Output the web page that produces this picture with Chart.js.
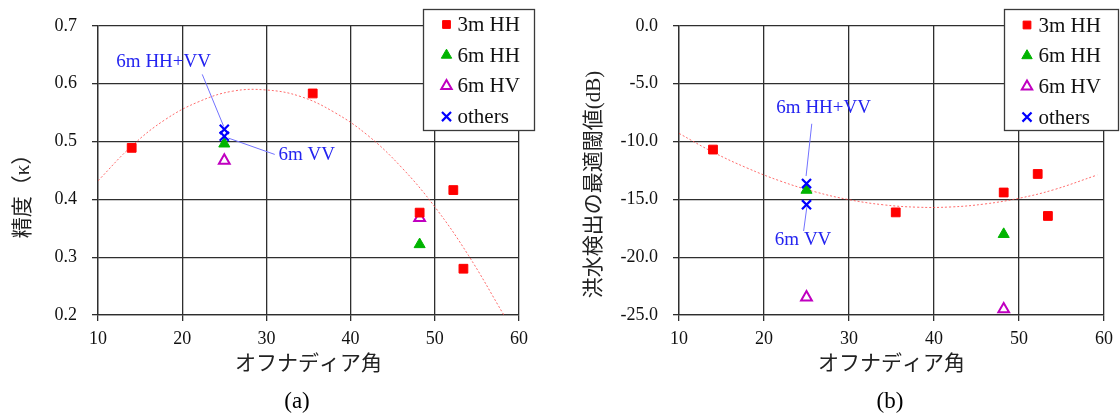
<!DOCTYPE html>
<html><head><meta charset="utf-8">
<script src="https://cdn.jsdelivr.net/npm/chart.js@4.4.1/dist/chart.umd.min.js"></script>
<style>
html,body{margin:0;padding:0;background:#fff;}
#wrap{position:relative;width:1120px;height:416px;overflow:hidden;}
canvas{position:absolute;top:0;}
#ca{left:0;} #cb{left:560px;}
</style></head><body>
<div id="wrap"><canvas id="ca" width="560" height="416"></canvas><canvas id="cb" width="560" height="416"></canvas></div>
<script>
// ---------- data ----------
const offNadirTicks = [10, 20, 30, 40, 50, 60];
const offNadirTickLabels = ['10', '20', '30', '40', '50', '60'];
const kappaTicks = [0.2, 0.3, 0.4, 0.5, 0.6, 0.7];
const kappaTickLabels = ['0.2', '0.3', '0.4', '0.5', '0.6', '0.7'];
const thrTicks = [-25, -20, -15, -10, -5, 0];
const thrTickLabels = ['-25.0', '-20.0', '-15.0', '-10.0', '-5.0', '0.0'];

const seriesNames = ['3m HH', '6m HH', '6m HV', 'others'];

const angle3mHH = [14.0, 35.5, 48.2, 52.2, 53.4];
const angle6mHH = [25.0, 48.2];
const angle6mHV = [25.0, 48.2];
const angleOthers = [25.0, 25.0];          // 6m HH+VV, 6m VV

const kappa3mHH = [0.489, 0.583, 0.377, 0.416, 0.280];
const kappa6mHH = [0.496, 0.322];
const kappa6mHV = [0.467, 0.368];
const kappaOthers = [0.521, 0.509];

const thr3mHH = [-10.7, -16.13, -14.41, -12.81, -16.44];
const thr6mHH = [-14.2, -18.02];
const thr6mHV = [-23.47, -24.49];
const thrOthers = [-13.64, -15.46];

// trend curves
const trendAX = [10, 14, 18, 22, 26, 30, 34, 38, 42, 46, 50, 54, 58.2];
const trendAY = [0.432, 0.492, 0.538, 0.569, 0.587, 0.589, 0.578, 0.551, 0.511, 0.456, 0.387, 0.303, 0.200];
const trendBX = [10, 14, 18, 22, 26, 30, 34, 38, 42, 46, 50, 54, 59.2];
const trendBY = [-9.3, -10.92, -12.29, -13.44, -14.35, -15.03, -15.47, -15.68, -15.66, -15.40, -14.91, -14.19, -12.90];

// ---------- helpers ----------
const SERIF = '"Liberation Serif", "Times New Roman", serif';
const MIXED = '"Liberation Serif", "Noto Sans CJK JP", serif';
const GRID = '#2e2e2e';
const pts = (xs, ys) => xs.map((x, i) => ({x: x, y: ys[i]}));

function drawMarker(ctx, style, x, y, r, fill, stroke, lw) {
  ctx.save();
  ctx.beginPath();
  if (style === 'rect') {
    const s = Math.SQRT1_2 * r;
    ctx.rect(x - s, y - s, 2 * s, 2 * s);
  } else if (style === 'triangle') {
    let a = 0;
    ctx.moveTo(x + Math.sin(a) * r, y - Math.cos(a) * r);
    a += 2 * Math.PI / 3;
    ctx.lineTo(x + Math.sin(a) * r, y - Math.cos(a) * r);
    a += 2 * Math.PI / 3;
    ctx.lineTo(x + Math.sin(a) * r, y - Math.cos(a) * r);
    ctx.closePath();
  } else if (style === 'crossRot') {
    const o = Math.SQRT1_2 * r;
    ctx.moveTo(x - o, y - o); ctx.lineTo(x + o, y + o);
    ctx.moveTo(x - o, y + o); ctx.lineTo(x + o, y - o);
  }
  if (fill && style !== 'crossRot') { ctx.fillStyle = fill; ctx.fill(); }
  if (lw > 0) { ctx.strokeStyle = stroke; ctx.lineWidth = lw; ctx.stroke(); }
  ctx.restore();
}

const decorPlugin = {
  id: 'decor',
  afterDraw(chart, args, o) {
    const ctx = chart.ctx;
    const xs = chart.scales.x, ys = chart.scales.y;
    // annotations
    ctx.save();
    o.notes.forEach(n => {
      ctx.beginPath();
      ctx.strokeStyle = '#7272ff';
      ctx.lineWidth = 1;
      ctx.moveTo(xs.getPixelForValue(n.line[0][0]), ys.getPixelForValue(n.line[0][1]));
      ctx.lineTo(xs.getPixelForValue(n.line[1][0]), ys.getPixelForValue(n.line[1][1]));
      ctx.stroke();
      ctx.font = '19px ' + SERIF;
      ctx.fillStyle = '#2424f0';
      ctx.textAlign = 'center';
      ctx.textBaseline = 'middle';
      ctx.fillText(n.text, xs.getPixelForValue(n.at[0]), ys.getPixelForValue(n.at[1]));
    });
    ctx.restore();
    // legend
    const L = o.legend;
    ctx.save();
    ctx.fillStyle = '#fff';
    ctx.fillRect(L.x, L.y, L.w, L.h);
    ctx.strokeStyle = '#3a3a3a';
    ctx.lineWidth = 1.3;
    ctx.strokeRect(L.x, L.y, L.w, L.h);
    let row = 0;
    chart.data.datasets.forEach(ds => {
      if (!ds.label) return;
      const cy = L.y + L.dy0 + row * L.gap;
      drawMarker(ctx, ds.pointStyle, L.x + L.mdx, cy, ds.legendRadius,
                 ds.backgroundColor, ds.borderColor, ds.borderWidth);
      ctx.font = '21px ' + SERIF;
      ctx.fillStyle = '#111';
      ctx.textAlign = 'left';
      ctx.textBaseline = 'middle';
      ctx.fillText(ds.label, L.x + L.tdx, cy + 1);
      row++;
    });
    ctx.restore();
    // y-axis title and caption
    ctx.save();
    ctx.fillStyle = '#222';
    ctx.textAlign = 'center';
    ctx.textBaseline = 'middle';
    ctx.font = '21px ' + MIXED;
    ctx.translate(o.yTitle.x, o.yTitle.y);
    ctx.rotate(-Math.PI / 2);
    ctx.fillText(o.yTitle.text, 0, 0);
    ctx.restore();
    ctx.save();
    ctx.fillStyle = '#000';
    ctx.textAlign = 'center';
    ctx.textBaseline = 'middle';
    ctx.font = '23px ' + SERIF;
    ctx.fillText(o.caption.text, o.caption.x, o.caption.y);
    ctx.restore();
  }
};

function makeDatasets(x3, y3, x6h, y6h, x6v, y6v, xo, yo, tx, ty) {
  return [
    {label: seriesNames[0], data: pts(x3, y3), pointStyle: 'rect', pointRadius: 6.2, legendRadius: 5.5,
     backgroundColor: '#ff0000', borderColor: '#ff0000', borderWidth: 1, order: 1},
    {label: seriesNames[1], data: pts(x6h, y6h), pointStyle: 'triangle', pointRadius: 6.4, legendRadius: 6,
     backgroundColor: '#00b400', borderColor: '#00b400', borderWidth: 1, order: 3},
    {label: seriesNames[2], data: pts(x6v, y6v), pointStyle: 'triangle', pointRadius: 6.2, legendRadius: 6,
     backgroundColor: 'rgba(255,255,255,0)', borderColor: '#c000c0', borderWidth: 2, order: 2},
    {label: seriesNames[3], data: pts(xo, yo), pointStyle: 'crossRot', pointRadius: 6.4, legendRadius: 6.4,
     backgroundColor: '#0000ff', borderColor: '#0000ff', borderWidth: 2.2, order: 0},
    {label: '', data: pts(tx, ty), showLine: true, pointRadius: 0, tension: 0.4,
     borderColor: 'rgba(255,70,70,0.8)', borderWidth: 1, borderDash: [2, 2], order: 5}
  ];
}

function makeOptions(yTicks, yLabels, yMin, yMax, yWidth, padRight, decor) {
  const tickFont = {family: SERIF, size: 18};
  return {
    responsive: false, animation: false, devicePixelRatio: 1,
    events: [],
    layout: {padding: {left: 0, right: padRight, top: 20, bottom: 41}},
    plugins: {legend: {display: false}, tooltip: {enabled: false}, decor: decor},
    scales: {
      x: {
        type: 'linear', min: 10, max: 60,
        afterBuildTicks: s => { s.ticks = offNadirTicks.map(v => ({value: v})); },
        ticks: {font: tickFont, color: '#111', padding: 7,
                callback: (v) => offNadirTickLabels[offNadirTicks.indexOf(v)]},
        grid: {color: GRID, lineWidth: 1.3, tickLength: 6},
        border: {color: GRID, width: 1.3},
        title: {display: true, text: 'オフナディア角', color: '#222',
                font: {family: '"Noto Sans CJK JP", sans-serif', size: 21}, padding: 0},
        afterFit: s => { s.height = 60; }
      },
      y: {
        type: 'linear', min: yMin, max: yMax,
        afterBuildTicks: s => { s.ticks = yTicks.map(v => ({value: v})); },
        ticks: {font: tickFont, color: '#111', padding: 15,
                callback: (v) => { const i = yTicks.findIndex(t => Math.abs(t - v) < 1e-9); return i >= 0 ? yLabels[i] : ''; }},
        grid: {color: GRID, lineWidth: 1.3, tickLength: 6},
        border: {color: GRID, width: 1.3},
        afterFit: s => { s.width = yWidth; }
      }
    }
  };
}

new Chart(document.getElementById('ca'), {
  type: 'scatter',
  data: {datasets: makeDatasets(angle3mHH, kappa3mHH, angle6mHH, kappa6mHH, angle6mHV, kappa6mHV,
                                angleOthers, kappaOthers, trendAX, trendAY)},
  options: makeOptions(kappaTicks, kappaTickLabels, 0.2, 0.7, 98, 41, {
    yTitle: {text: '精度（κ）', x: 23, y: 191},
    caption: {text: '(a)', x: 297, y: 402},
    legend: {x: 423.5, y: 9.5, w: 111, h: 121, mdx: 23, tdx: 34, dy0: 15, gap: 30.7},
    notes: [
      {text: '6m HH+VV', at: [17.8, 0.638], line: [[22.38, 0.616], [24.93, 0.526]]},
      {text: '6m VV', at: [34.79, 0.4766], line: [[25.48, 0.5059], [30.99, 0.4776]]}
    ]
  }),
  plugins: [decorPlugin]
});

new Chart(document.getElementById('cb'), {
  type: 'scatter',
  data: {datasets: makeDatasets(angle3mHH, thr3mHH, angle6mHH, thr6mHH, angle6mHV, thr6mHV,
                                angleOthers, thrOthers, trendBX, trendBY)},
  options: makeOptions(thrTicks, thrTickLabels, -25, 0, 119, 16, {
    yTitle: {text: '洪水検出の最適閾値(dB)', x: 34, y: 184.5},
    caption: {text: '(b)', x: 330, y: 402},
    legend: {x: 444.5, y: 9.5, w: 114, h: 121, mdx: 22.5, tdx: 34, dy0: 15.5, gap: 30.7},
    notes: [
      {text: '6m HH+VV', at: [27.02, -7.12], line: [[25.62, -8.47], [24.95, -12.99]]},
      {text: '6m VV', at: [24.6, -18.5], line: [[25.04, -15.68], [24.66, -17.74]]}
    ]
  }),
  plugins: [decorPlugin]
});
</script>
</body></html>
